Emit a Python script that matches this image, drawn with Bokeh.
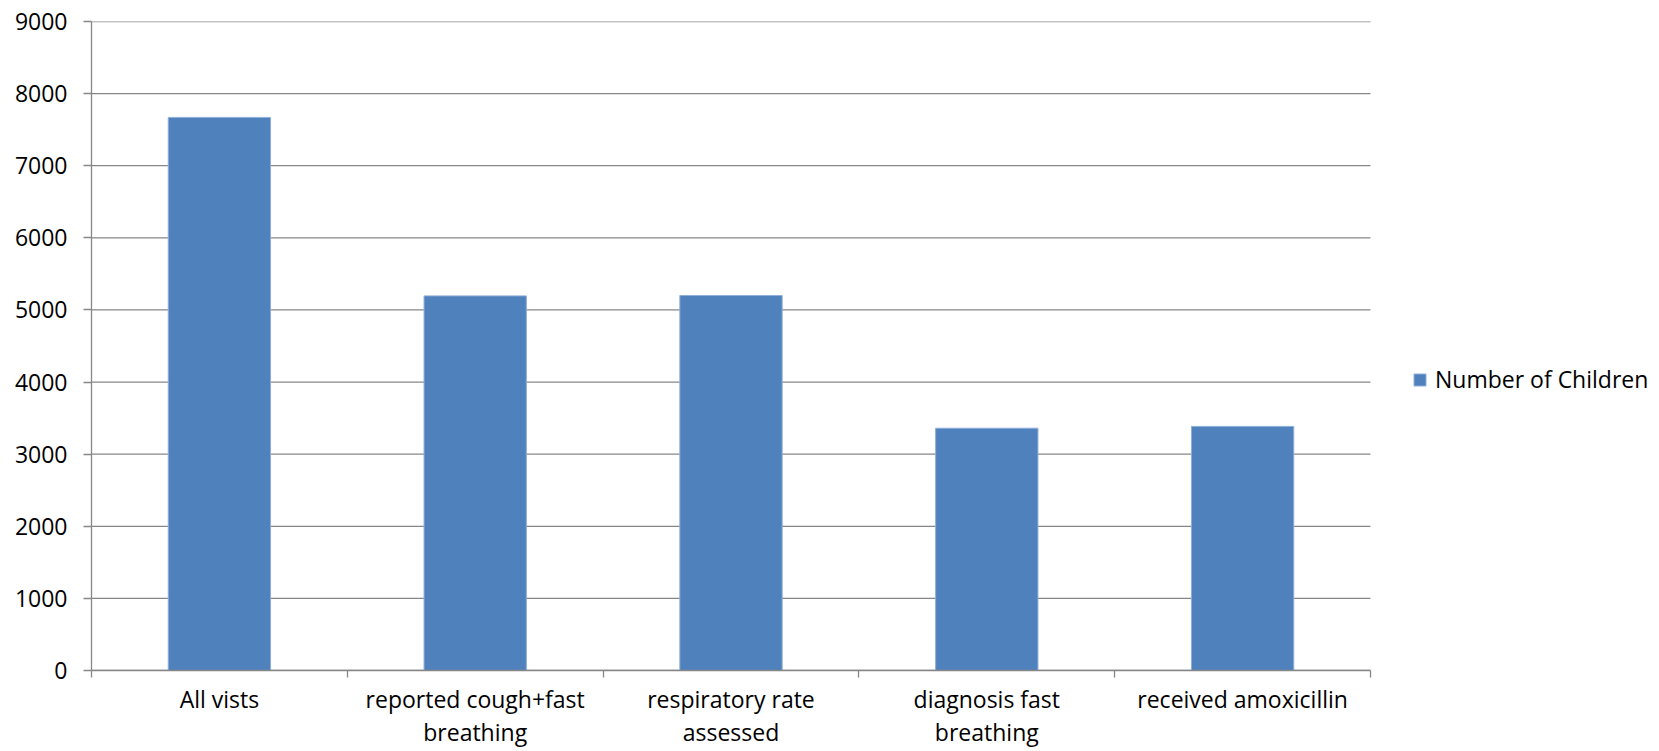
from bokeh.plotting import figure
from bokeh.models import FixedTicker, Legend, LegendItem, ColumnDataSource
from bokeh.embed import file_html
from bokeh.resources import INLINE

categories = ["All vists", "reported cough+fast breathing", "respiratory rate assessed",
              "diagnosis fast breathing", "received amoxicillin"]
tick_labels = ["All vists", "reported cough+fast\nbreathing", "respiratory rate\nassessed",
               "diagnosis fast\nbreathing", "received amoxicillin"]
values = [7670, 5195, 5200, 3360, 3385]
series_name = "Number of Children"
y_ticks = [0, 1000, 2000, 3000, 4000, 5000, 6000, 7000, 8000, 9000]

n = len(categories)
centers = [i + 0.5 for i in range(n)]
boundaries = list(range(n + 1))

FONT = "Open Sans"
FSIZE = "23px"
GRID = "#878787"
BAR = "#4F81BD"

# layout (pixels)
W, H = 1659, 751
LEFT, TOP, BOTTOM = 91, 21, 78
PLOT_RIGHT = 1370          # where the category axis ends
frame_w = W - LEFT
x_end = n * frame_w / (PLOT_RIGHT - LEFT)

p = figure(width=W, height=H, x_range=(0, x_end), y_range=(0, 9000),
           output_backend="svg", toolbar_location=None,
           min_border_left=LEFT, min_border_right=0, min_border_top=TOP,
           min_border_bottom=BOTTOM)
p.outline_line_color = None
p.background_fill_color = "white"
p.border_fill_color = "white"

# horizontal gridlines limited to the category area
p.xgrid.grid_line_color = None
p.ygrid.grid_line_color = None
p.segment(x0=[0] * len(y_ticks), x1=[n] * len(y_ticks), y0=y_ticks, y1=y_ticks,
          line_color=GRID, line_width=1.3)

src = ColumnDataSource(dict(x=centers, top=values, name=categories))
r = p.vbar(x="x", top="top", bottom=0, width=0.4, source=src,
           fill_color=BAR, line_color="#8FAEDA", line_width=1)

# x axis: tick marks between categories, labels at centers
xa = p.xaxis[0]
xa.bounds = (0, n)
xa.ticker = FixedTicker(ticks=centers, minor_ticks=boundaries)
xa.major_label_overrides = {c: t for c, t in zip(centers, tick_labels)}
xa.major_tick_out = 0
xa.major_tick_in = 0
xa.minor_tick_out = 7
xa.minor_tick_in = 0
xa.minor_tick_line_color = GRID
xa.minor_tick_line_width = 1.3
xa.axis_line_color = GRID
xa.axis_line_width = 1.3
xa.major_label_standoff = 5
xa.major_label_text_font = FONT
xa.major_label_text_font_size = FSIZE
xa.major_label_text_color = "black"
xa.major_label_text_line_height = 1.05

ya = p.yaxis[0]
ya.ticker = FixedTicker(ticks=y_ticks, minor_ticks=[])
ya.major_tick_out = 8
ya.major_tick_in = 0
ya.major_tick_line_color = GRID
ya.major_tick_line_width = 1.3
ya.axis_line_color = GRID
ya.axis_line_width = 1.3
ya.major_label_standoff = 16
ya.major_label_text_font = FONT
ya.major_label_text_font_size = FSIZE
ya.major_label_text_color = "black"

legend = Legend(items=[LegendItem(label=series_name, renderers=[r])],
                location=(1412 - LEFT, 275), padding=0, margin=0, spacing=0,
                glyph_width=15, glyph_height=15, label_standoff=8,
                label_text_font=FONT, label_text_font_size=FSIZE,
                label_text_color="black", border_line_color=None,
                background_fill_alpha=0)
p.add_layout(legend)

open("out.html", "w").write(file_html(p, INLINE))
